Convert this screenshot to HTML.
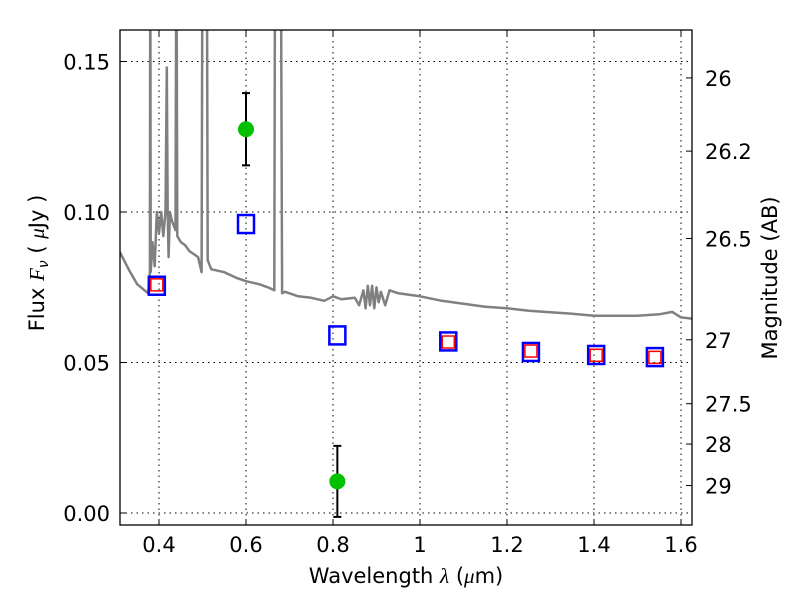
<!DOCTYPE html>
<html><head><meta charset="utf-8"><style>
body{margin:0;background:#fff}
svg{font-family:"DejaVu Sans","Liberation Sans",sans-serif}
</style></head><body>
<svg id="c" width="800" height="600" xmlns="http://www.w3.org/2000/svg"></svg>
<script>
const xTicks=[0.4,0.6,0.8,1,1.2,1.4,1.6];
const xTickLabels=["0.4","0.6","0.8","1","1.2","1.4","1.6"];
const yTicks=[0,0.05,0.10,0.15];
const yTickLabels=["0.00","0.05","0.10","0.15"];
const magTicks=[26,26.2,26.5,27,27.5,28,29];
const magTickLabels=["26","26.2","26.5","27","27.5","28","29"];
const specWave=[0.31,0.33,0.35,0.375,0.379,0.38,0.381,0.385,0.39,0.395,0.40,0.405,0.41,0.415,0.418,0.42,0.422,0.425,0.43,0.438,0.44,0.442,0.45,0.46,0.47,0.48,0.49,0.498,0.50,0.502,0.505,0.507,0.51,0.512,0.52,0.55,0.58,0.6,0.63,0.65,0.665,0.667,0.672,0.675,0.68,0.683,0.69,0.72,0.75,0.78,0.8,0.82,0.85,0.86,0.87,0.875,0.88,0.885,0.89,0.895,0.9,0.905,0.91,0.92,0.93,0.94,0.95,1.0,1.05,1.1,1.15,1.2,1.25,1.3,1.35,1.4,1.45,1.5,1.55,1.58,1.6,1.63];
const specFlux=[0.0867,0.081,0.076,0.073,0.08,0.2,0.08,0.09,0.082,0.1,0.093,0.1,0.092,0.1,0.148,0.1,0.085,0.1,0.097,0.094,0.2,0.092,0.09,0.089,0.087,0.086,0.085,0.08,0.2,0.2,0.2,0.2,0.2,0.084,0.081,0.08,0.078,0.077,0.076,0.075,0.074,0.2,0.2,0.2,0.2,0.073,0.0735,0.072,0.0715,0.0705,0.072,0.071,0.0715,0.069,0.074,0.068,0.0755,0.069,0.0755,0.068,0.075,0.07,0.0735,0.069,0.074,0.0735,0.073,0.072,0.0705,0.0695,0.0685,0.068,0.0672,0.0667,0.0662,0.0655,0.0655,0.0655,0.066,0.0668,0.065,0.0645];
const photWave=[0.395,0.6,0.81,1.065,1.255,1.405,1.54];
const modelFlux=[0.0755,0.096,0.059,0.057,0.0535,0.0525,0.0518];
const redWave=[0.395,1.065,1.255,1.405,1.54];
const redFlux=[0.0758,0.0568,0.0538,0.0524,0.0517];
const obsWave=[0.6,0.81];
const obsFlux=[0.1275,0.0105];
const obsErr=[0.012,0.0118];
const L=120,R=692,T=30,B=525;
const X=w=>159+(w-0.4)*435;
const Y=f=>513-f*3010;
const M=m=>Y(Math.pow(10,(23.9-m)/2.5));
const svg=document.getElementById('c');
const NS="http://www.w3.org/2000/svg";
function mk(t,a,p){const e=document.createElementNS(NS,t);for(const k in a)e.setAttribute(k,a[k]);(p||svg).appendChild(e);return e;}
const defs=mk('defs',{});const cp=mk('clipPath',{id:'pc'},defs);mk('rect',{x:L,y:T,width:R-L,height:B-T},cp);
xTicks.forEach((v,i)=>{const g=mk('line',{x1:X(v),x2:X(v),y1:T,y2:B,stroke:'#000','stroke-dasharray':'1.5,4','stroke-width':1});


mk('line',{x1:X(v),x2:X(v),y1:B,y2:B-6,stroke:'#000'});mk('line',{x1:X(v),x2:X(v),y1:T,y2:T+6,stroke:'#000'});
const t=mk('text',{x:X(v),y:B+27,'text-anchor':'middle','font-size':21});t.textContent=xTickLabels[i];

});
yTicks.forEach((v,i)=>{const g=mk('line',{x1:L,x2:R,y1:Y(v),y2:Y(v),stroke:'#000','stroke-dasharray':'1.5,4','stroke-width':1});


mk('line',{x1:L,x2:L+6,y1:Y(v),y2:Y(v),stroke:'#000'});
const t=mk('text',{x:L-10,y:Y(v)+8,'text-anchor':'end','font-size':21});t.textContent=yTickLabels[i];

});
magTicks.forEach((m,i)=>{mk('line',{x1:R,x2:R-6,y1:M(m),y2:M(m),stroke:'#000'});
const t=mk('text',{x:R+13,y:M(m)+8,'font-size':21});t.textContent=magTickLabels[i];

});
let d=specWave.map((w,i)=>(i?'L':'M')+X(w).toFixed(1)+','+Y(specFlux[i]).toFixed(1)).join(' ');
const sp=mk('path',{d:d,fill:'none',stroke:'#808080','stroke-width':2.5,'clip-path':'url(#pc)','stroke-linejoin':'round'});


photWave.forEach((w,i)=>{const r=mk('rect',{x:X(w)-8,y:Y(modelFlux[i])-9,width:16,height:18,fill:'none',stroke:'#0000ff','stroke-width':2.5});

});
redWave.forEach((w,i)=>{const r=mk('rect',{x:X(w)-6,y:Y(redFlux[i])-6,width:12,height:12,fill:'none',stroke:'#ff0000','stroke-width':1.5});

});
obsWave.forEach((w,i)=>{const x=X(w),y1=Y(obsFlux[i]+obsErr[i]),y2=Y(obsFlux[i]-obsErr[i]);
mk('line',{x1:x,x2:x,y1:y1,y2:y2,stroke:'#000','stroke-width':2});
mk('line',{x1:x-4,x2:x+4,y1:y1,y2:y1,stroke:'#000','stroke-width':2});
mk('line',{x1:x-4,x2:x+4,y1:y2,y2:y2,stroke:'#000','stroke-width':2});
const c=mk('circle',{cx:x,cy:Y(obsFlux[i]),r:8,fill:'#00c000'});

});
const fr=mk('rect',{x:L,y:T,width:R-L,height:B-T,fill:'none',stroke:'#000','stroke-width':1.3});


const xl=mk('text',{x:406,y:583,'text-anchor':'middle','font-size':21});xl.innerHTML='Wavelength  <tspan font-style="italic" font-family="Liberation Serif">λ</tspan> (<tspan font-style="italic" font-family="Liberation Serif">μ</tspan>m)';


const yl=mk('text',{x:0,y:0,'text-anchor':'middle','font-size':21,transform:'translate(44,263) rotate(-90)'});yl.innerHTML='Flux  <tspan font-style="italic" font-family="Liberation Serif">F</tspan><tspan font-size="14" dy="4" font-style="italic">ν</tspan><tspan dy="-4">  (  </tspan><tspan font-style="italic" font-family="Liberation Serif">μ</tspan>Jy )';


const ml=mk('text',{x:0,y:0,'text-anchor':'middle','font-size':21,transform:'translate(777,278) rotate(-90)'});ml.textContent='Magnitude (AB)';


</script>
</body></html>
